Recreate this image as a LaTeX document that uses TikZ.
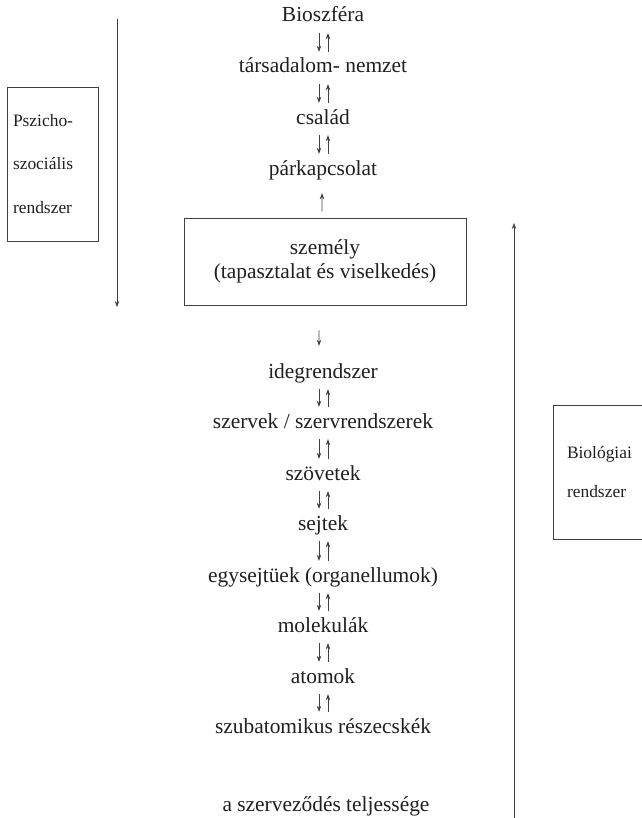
\documentclass[tikz,border=0pt]{standalone}
\usepackage{fontspec}
\setmainfont{Liberation Serif}
\usetikzlibrary{arrows.meta}
\definecolor{ink}{gray}{0.12}
\definecolor{rule}{gray}{0.25}
\tikzset{
    level/.style={inner sep=0pt, text height=15bp, text depth=5bp,
                  font=\fontsize{21.5}{24}\selectfont, text=ink},    % one level of the hierarchy
    side/.style={draw=rule, line width=0.7bp, align=left, text=ink}, % the two system boxes
    tip/.style={draw=rule, line width=0.7bp, -{Stealth[length=6bp,width=4.5bp]}},
    pair/.style={tip, shorten <=6bp, shorten >=6bp}
}

\begin{document}
\begin{tikzpicture}[x=1bp,y=-1bp]
        \useasboundingbox (0,0) rectangle (642,818);

        % upper levels
        \foreach \n/\y/\t in {bio/17/Bioszféra, tars/68/társadalom- nemzet, csal/119/család, park/170/párkapcsolat}{
            \node[level] (\n) at (323,\y) {\t};
        }

        \node[draw=rule, line width=0.7bp, minimum width=282bp, minimum height=87bp, align=center,
              font=\fontsize{21.5}{24}\selectfont, text=ink] (szem) at (325,261.5)
              {személy\\(tapasztalat és viselkedés)};

        % lower levels
        \node[level] (ideg) at (323,373) {idegrendszer};
        \node[level] (szerv) at (323,423) {szervek / szervrendszerek};
        \foreach \n/\y/\t in {szov/475/szövetek, sejt/525/sejtek, egys/577/egysejtüek (organellumok),
                              mol/627/molekulák, atom/678/atomok, szub/728/szubatomikus részecskék}{
            \node[level] (\n) at (323,\y) {\t};
        }
        \node[level] (teljes) at (326,806) {a szerveződés teljessége};

        % down and up between neighbours
        \foreach \a/\b in {bio/tars,tars/csal,csal/park,ideg/szerv,szerv/szov,szov/sejt,sejt/egys,egys/mol,mol/atom,atom/szub}{
            \draw[pair] ([xshift=-4bp]\a.south) -- ([xshift=-4bp]\b.north);
            \draw[pair] ([xshift=5bp]\b.north) -- ([xshift=5bp]\a.south);
        }
        \draw[tip, shorten <=6bp, shorten >=13bp] ([xshift=-3bp]szem.north) -- ([xshift=-1bp]park.south);
        \draw[tip, shorten <=25bp, shorten >=17bp] ([xshift=-6bp]szem.south) -- ([xshift=-4bp]ideg.north);

        % the two systems
        \node[side, text width=79bp, inner xsep=6bp, minimum height=154bp,
              font=\fontsize{17.5}{44}\selectfont] (pszi) at (52.5,164) {Pszicho-\\szociális\\rendszer};
        \node[side, text width=64bp, inner xsep=14bp, minimum height=134bp,
              font=\fontsize{17.5}{40}\selectfont] (biol) at (599,472) {Biológiai\\rendszer};

        \coordinate (ltop) at (117,19);
        \coordinate (lbot) at (117,307);
        \draw[tip] (ltop) -- (lbot);
        \coordinate (rbot) at (514,818);
        \coordinate (rtop) at (514,223);
        \draw[tip] (rbot) -- (rtop);
\end{tikzpicture}
\end{document}
